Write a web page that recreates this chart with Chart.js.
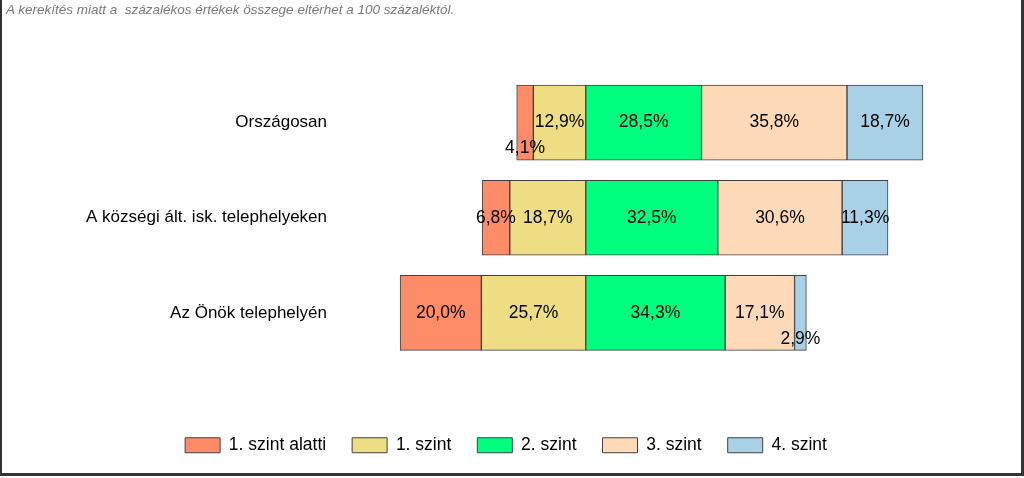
<!DOCTYPE html>
<html>
<head>
<meta charset="utf-8">
<script src="https://cdn.jsdelivr.net/npm/chart.js@4.4.1/dist/chart.umd.min.js"></script>
<style>
  html, body { margin: 0; padding: 0; background: #fff; }
  #wrap { position: relative; width: 1024px; height: 478px; overflow: hidden; }
  #c { position: absolute; left: 0; top: 0; }
  #note { position: absolute; left: 6px; top: 2px; font: italic 13.5px 'Liberation Sans', Arial, sans-serif;
          color: #7a7a7a; white-space: pre; line-height: 16px; }
  #frame { position: absolute; left: 0; top: 0; width: 1019px; height: 473px;
           border-left: 2px solid #333; border-right: 3px solid #333; border-bottom: 3px solid #333;
           pointer-events: none; }
</style>
</head>
<body>
<div id="wrap">
  <canvas id="c" width="1024" height="478"></canvas>
  <div id="note"></div>
  <div id="frame"></div>
</div>
<script>
const categories = ["Országosan", "A községi ált. isk. telephelyeken", "Az Önök telephelyén"];
const seriesNames = ["1. szint alatti", "1. szint", "2. szint", "3. szint", "4. szint"];
const belowLevel1 = [4.1, 6.8, 20.0];
const level1 = [12.9, 18.7, 25.7];
const level2 = [28.5, 32.5, 34.3];
const level3 = [35.8, 30.6, 17.1];
const level4 = [18.7, 11.3, 2.9];
const colors = ["#FF8C69", "#EEDD82", "#00FF7F", "#FFDAB9", "#A8D0E6"];
const titleText = "A kerekítés miatt a  százalékos értékek összege eltérhet a 100 százaléktól.";

document.getElementById("note").textContent = titleText;

// Diverging layout: levels below 2 go left of zero, others right.
const ranges = [
  belowLevel1.map((v, i) => [-(v + level1[i]), -level1[i]]),
  level1.map(v => [-v, 0]),
  level2.map(v => [0, v]),
  level3.map((v, i) => [level2[i], level2[i] + v]),
  level4.map((v, i) => [level2[i] + level3[i], level2[i] + level3[i] + v])
];
const rawValues = [belowLevel1, level1, level2, level3, level4];

const datasets = seriesNames.map((name, k) => ({
  label: name,
  data: ranges[k],
  rawValues: rawValues[k],
  backgroundColor: colors[k],
  borderColor: "#404040",
  borderWidth: 1,
  borderSkipped: false,
  grouped: false,
  barThickness: 75
}));

const FONT = "'Liberation Sans', Arial, sans-serif";

const valueLabels = {
  id: "valueLabels",
  afterDatasetsDraw(chart) {
    const ctx = chart.ctx;
    ctx.save();
    ctx.font = "17.5px " + FONT;
    ctx.fillStyle = "#000";
    ctx.textAlign = "center";
    ctx.textBaseline = "middle";
    chart.data.datasets.forEach((ds, di) => {
      const meta = chart.getDatasetMeta(di);
      meta.data.forEach((el, i) => {
        const v = ds.rawValues[i];
        const cx = (el.x + el.base) / 2;
        let cy = el.y;
        if (v < 5) cy += 26;
        ctx.fillText(v.toFixed(1).replace(".", ",") + "%", cx, cy);
      });
    });
    ctx.restore();
  }
};

new Chart(document.getElementById("c"), {
  type: "bar",
  data: { labels: categories, datasets },
  options: {
    indexAxis: "y",
    responsive: false,
    animation: false,
    layout: { padding: { left: 20, right: 32, top: 75, bottom: 14 } },
    scales: {
      x: {
        display: true, min: -60, max: 100,
        grid: { display: false }, border: { display: false },
        ticks: { display: false },
        afterFit(scale) { scale.height = 50; }
      },
      y: {
        grid: { display: false },
        border: { display: false },
        ticks: { color: "#000", padding: 7, font: { family: FONT, size: 17 } },
        afterFit(scale) { scale.width = 322; }
      }
    },
    plugins: {
      tooltip: { enabled: false },
      title: { display: false },
      legend: {
        position: "bottom",
        labels: {
          boxWidth: 35,
          boxHeight: 15,
          padding: 26,
          color: "#000",
          font: { family: FONT, size: 17.5 }
        }
      }
    }
  },
  plugins: [valueLabels]
});
</script>
</body>
</html>
